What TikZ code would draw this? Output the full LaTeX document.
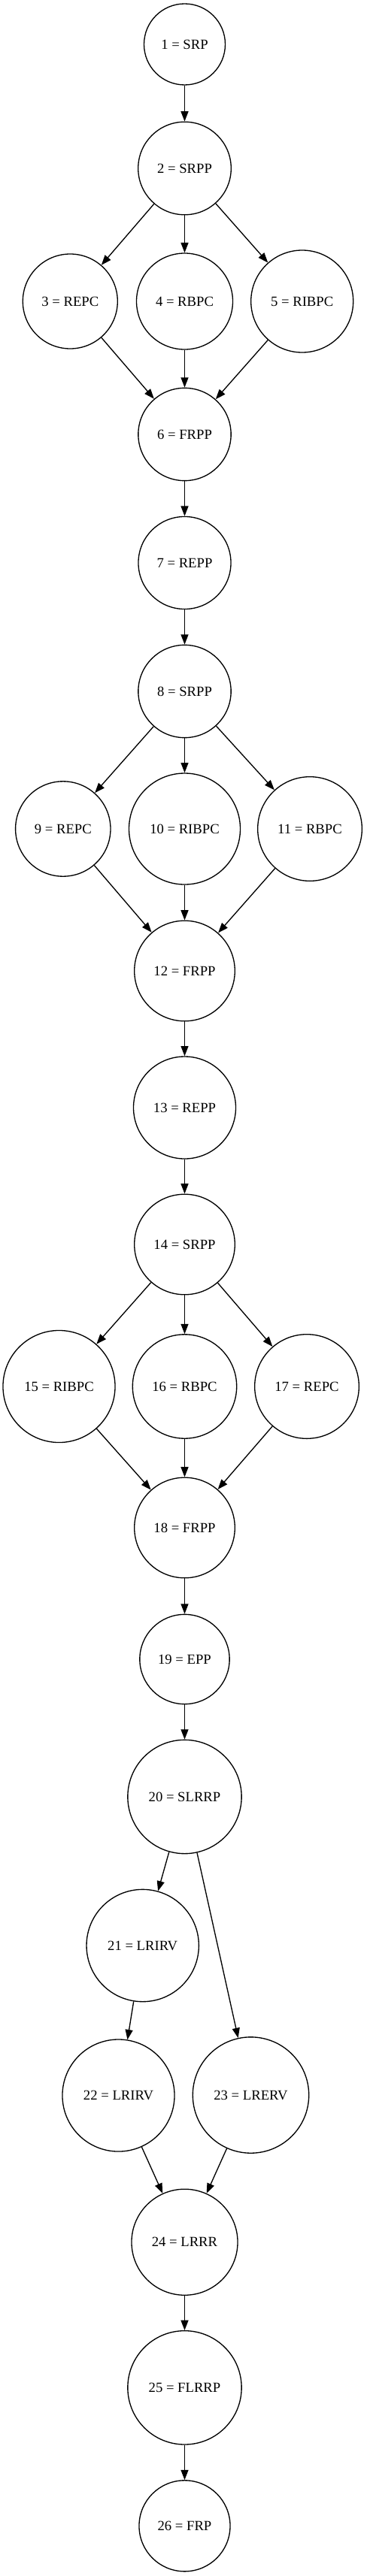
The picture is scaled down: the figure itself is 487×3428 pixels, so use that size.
\documentclass[tikz,border=0pt]{standalone}
\usepackage{fontspec}
\setmainfont{Liberation Serif}
\usetikzlibrary{arrows.meta}
\tikzset{
  st/.style={circle, draw=black, line width=1pt, inner sep=0pt, font=\fontsize{14pt}{16pt}\selectfont},
  edge/.style={draw=black, line width=1pt, -{Triangle[length=10pt,width=7.5pt]}}
}
\newcommand\nd[5]{\node[st, minimum size=#4pt] (#1) at (#2,#3) {#5};}
\begin{document}
\begin{tikzpicture}[x=0.75pt,y=-0.75pt]
\useasboundingbox (0,0) rectangle (487,3428);
\nd{n1}{245.5}{59}{81}{1 = SRP}
\nd{n2}{245.5}{224}{92.7}{2 = SRPP}
\nd{n3}{93.3}{401}{94.5}{3 = REPC}
\nd{n4}{245.5}{401}{96}{4 = RBPC}
\nd{n5}{401.7}{401}{102}{5 = RIBPC}
\nd{n6}{245.5}{578}{92.5}{6 = FRPP}
\nd{n7}{245.5}{749}{92.3}{7 = REPP}
\nd{n8}{245.5}{920}{92.5}{8 = SRPP}
\nd{n9}{83.8}{1103}{94.8}{9 = REPC}
\nd{n10}{245.5}{1103}{111}{10 = RIBPC}
\nd{n11}{412}{1103}{104}{11 = RBPC}
\nd{n12}{245.5}{1292}{100.2}{12 = FRPP}
\nd{n13}{245.5}{1474}{102}{13 = REPP}
\nd{n14}{245.5}{1656}{100.2}{14 = SRPP}
\nd{n15}{78.5}{1845}{111.8}{15 = RIBPC}
\nd{n16}{245.5}{1845}{103.8}{16 = RBPC}
\nd{n17}{408}{1845}{104}{17 = REPC}
\nd{n18}{245.5}{2033}{100.2}{18 = FRPP}
\nd{n19}{245.5}{2208}{89.5}{19 = EPP}
\nd{n20}{245.5}{2391}{113.5}{20 = SLRRP}
\nd{n21}{189.7}{2589}{112}{21 = LRIRV}
\nd{n22}{157.5}{2788.5}{111.8}{22 = LRIRV}
\nd{n23}{333.5}{2788}{115.8}{23 = LRERV}
\nd{n24}{245.5}{2983.7}{105.8}{24 = LRRR}
\nd{n25}{245.5}{3177.3}{113.5}{25 = FLRRP}
\nd{n26}{245.5}{3361.3}{90.8}{26 = FRP}
\foreach \a/\b in {n1/n2, n2/n3, n2/n4, n2/n5, n3/n6, n4/n6, n5/n6, n6/n7, n7/n8,
  n8/n9, n8/n10, n8/n11, n9/n12, n10/n12, n11/n12, n12/n13, n13/n14,
  n14/n15, n14/n16, n14/n17, n15/n18, n16/n18, n17/n18, n18/n19, n19/n20,
  n20/n21, n20/n23, n21/n22, n22/n24, n23/n24, n24/n25, n25/n26}
  \draw[edge] (\a) -- (\b);
\end{tikzpicture}
\end{document}
